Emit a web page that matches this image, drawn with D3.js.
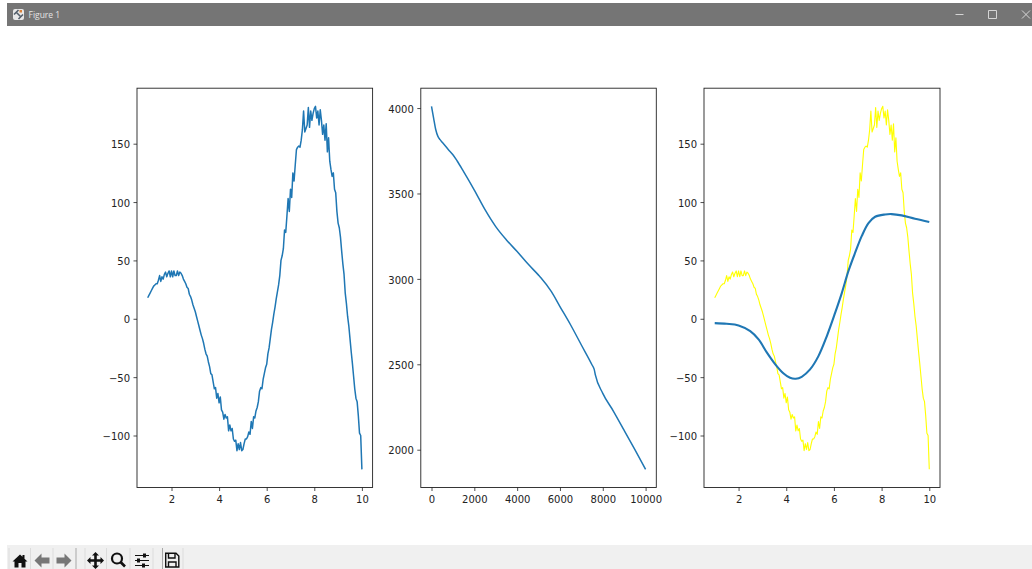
<!DOCTYPE html>
<html>
<head>
<meta charset="utf-8">
<script src="https://d3js.org/d3.v7.min.js"></script>
<style>
  html, body { margin: 0; padding: 0; background: #fff; overflow: hidden; }
  svg { display: block; }
  text { font-family: "DejaVu Sans", sans-serif; }
</style>
</head>
<body>
<svg id="fig" width="1032" height="569"></svg>
<script>
// noisy curve
const noisyX = [
  1.00, 1.05, 1.10, 1.15, 1.20, 1.25, 1.30, 1.35, 1.40, 1.45, 1.50, 1.55, 1.60, 1.65, 1.70, 1.75, 1.80, 1.85, 1.90, 1.95,
  2.00, 2.05, 2.10, 2.15, 2.20, 2.25, 2.30, 2.35, 2.40, 2.45, 2.50, 2.55, 2.60, 2.65, 2.70, 2.75, 2.80, 2.85, 2.90, 2.95,
  3.00, 3.05, 3.10, 3.15, 3.20, 3.25, 3.30, 3.35, 3.40, 3.45, 3.50, 3.55, 3.60, 3.65, 3.70, 3.75, 3.80, 3.85, 3.90, 3.95,
  4.00, 4.05, 4.10, 4.15, 4.20, 4.25, 4.30, 4.35, 4.40, 4.45, 4.50, 4.55, 4.60, 4.65, 4.70, 4.75, 4.80, 4.85, 4.90, 4.95,
  5.00, 5.05, 5.10, 5.15, 5.20, 5.25, 5.30, 5.35, 5.40, 5.45, 5.50, 5.55, 5.60, 5.65, 5.70, 5.75, 5.80, 5.85, 5.90, 5.95,
  6.00, 6.05, 6.10, 6.15, 6.20, 6.25, 6.30, 6.35, 6.40, 6.45, 6.50, 6.55, 6.60, 6.65, 6.70, 6.75, 6.80, 6.85, 6.90, 6.95,
  7.00, 7.05, 7.10, 7.15, 7.20, 7.25, 7.30, 7.35, 7.40, 7.45, 7.50, 7.55, 7.60, 7.65, 7.70, 7.75, 7.80, 7.85, 7.90, 7.95,
  8.00, 8.05, 8.10, 8.15, 8.20, 8.25, 8.30, 8.35, 8.40, 8.45, 8.50, 8.55, 8.60, 8.65, 8.70, 8.75, 8.80, 8.85, 8.90, 8.95,
  9.00, 9.05, 9.10, 9.15, 9.20, 9.25, 9.30, 9.35, 9.40, 9.45, 9.50, 9.55, 9.60, 9.65, 9.70, 9.75, 9.80, 9.85, 9.90, 9.95,
  10.00
];
const noisyY = [
  18, 20, 22, 24, 26, 28, 29, 30, 30, 33, 37, 32, 36, 34, 38, 40, 36, 39, 41, 36,
  41, 36, 41, 37, 37, 41, 37, 40, 39, 37, 34, 32, 30, 27, 26, 21, 19, 16, 12, 9,
  6, 2, -2, -6, -10, -14, -17, -21, -26, -30, -32, -37, -41, -47, -48, -54, -60, -59, -68, -64,
  -72, -67, -78, -80, -86, -82, -85, -84, -96, -91, -96, -94, -103, -105, -104, -113, -107, -112, -106, -113,
  -112, -107, -103, -103, -101, -97, -99, -88, -94, -84, -85, -79, -76, -71, -62, -59, -60, -52, -47, -42,
  -39, -30, -25, -17, -9, -3, 4, 10, 17, 23, 29, 37, 50, 54, 60, 76, 74, 88, 103, 92,
  111, 104, 125, 118, 132, 145, 147, 148, 147, 153, 162, 178, 160, 163, 166, 181, 164, 178, 170, 176,
  180, 182, 172, 178, 166, 179, 170, 158, 166, 153, 167, 143, 155, 135, 128, 122, 125, 111, 108, 92,
  82, 78, 70, 58, 47, 38, 22, 13, 2, -6, -17, -28, -38, -49, -60, -68, -71, -83, -98, -100,
  -129
];

// loss curve, middle panel
const lossStep = [0, 100, 200, 300, 400, 500, 800, 1000, 1200, 1500, 2000, 2500, 3000, 3500, 4000, 4500, 5000, 5100, 5600, 6000, 6500, 7000, 7500, 7600, 7650, 8000, 8500, 9000, 9500, 10000];
const lossVal = [4010, 3940, 3873, 3834, 3815, 3800, 3755, 3727, 3690, 3628, 3520, 3405, 3306, 3228, 3160, 3088, 3022, 3008, 2925, 2838, 2730, 2613, 2496, 2470, 2440, 2330, 2225, 2113, 2000, 1885];

// fitted curve, right panel
const fitX = [1, 1.5, 2, 2.49, 2.84, 3.19, 3.54, 3.89, 4.16, 4.4, 4.65, 5, 5.35, 5.7, 6.05, 6.33, 6.61, 6.89, 7.17, 7.45, 7.73, 8.15, 8.42, 8.84, 9.4, 10];
const fitY = [-3.7, -4.3, -5.7, -10.6, -17.7, -29, -39, -46.9, -50.6, -51.4, -49.7, -43.4, -32, -15, 5, 22, 41, 56.6, 71, 82, 87.4, 89.4, 89.7, 88.6, 85.7, 83];

const curveTicksX = [2, 4, 6, 8, 10];
const curveTicksY = [-100, -50, 0, 50, 100, 150];
const lossTicksX = [0, 2000, 4000, 6000, 8000, 10000];
const lossTicksY = [2000, 2500, 3000, 3500, 4000];

const svg = d3.select("#fig");

// window title bar
svg.append("rect").attr("x", 7).attr("y", 3).attr("width", 1025).attr("height", 23).attr("fill", "#757575");
const logo = svg.append("g").attr("transform", "translate(13,9)");
logo.append("rect").attr("width", 11).attr("height", 11).attr("rx", 2).attr("fill", "#e8e8e8");
logo.append("path").attr("d", "M1 5.5L5.5 1M5.5 10L10 5.5M3 3L8 8").attr("stroke", "#55606b").attr("stroke-width", 1.6);
logo.append("rect").attr("x", 6.5).attr("y", 1).attr("width", 2.5).attr("height", 2.5).attr("fill", "#d9823b");
svg.append("text").attr("x", 28.5).attr("y", 18).attr("font-size", 8.5).attr("fill", "#e4e4e4")
  .style("font-family", "'Open Sans', sans-serif").text("Figure 1");
svg.append("path").attr("fill", "none").attr("stroke", "#e0e0e0").attr("stroke-width", 0.9)
  .attr("d", "M955.5 14.5H963.5M988.5 10.5h8v8h-8zM1022 10.5l8 8M1030 10.5l-8 8");

// toolbar
svg.append("rect").attr("x", 7).attr("y", 545).attr("width", 1025).attr("height", 24).attr("fill", "#f0f0f0");
[9, 30.5, 53, 76, 85, 106.5, 130, 153, 162.5, 183].forEach((x) => {
  svg.append("line").attr("x1", x).attr("x2", x).attr("y1", 548).attr("y2", 569)
    .attr("stroke", x === 76 || x === 162.5 ? "#a8a8a8" : "#dcdcdc").attr("stroke-width", 1);
});
const toolIcons = [
  { x: 20, fill: "#111", d: "M-7.5 1L0 -6L2.5 -3.7V-5.5H4.5V-1.8L7.5 1H5.5V7H1.5V2.5H-1.5V7H-5.5V1Z" },
  { x: 42, fill: "#777", d: "M-7.5 0L-0.5 -7V-3H7.5V3H-0.5V7Z" },
  { x: 64, fill: "#777", d: "M7.5 0L0.5 -7V-3H-7.5V3H0.5V7Z" },
  { x: 95.5, fill: "#111", d: "M0 -8.5L3.5 -5H1.3V-1.3H5V-3.5L8.5 0L5 3.5V1.3H1.3V5H3.5L0 8.5L-3.5 5H-1.3V1.3H-5V3.5L-8.5 0L-5 -3.5V-1.3H-1.3V-5H-3.5Z" }
];
toolIcons.forEach((ic) => {
  svg.append("path").attr("transform", `translate(${ic.x},560.5)`).attr("d", ic.d).attr("fill", ic.fill);
});
svg.append("circle").attr("cx", 117).attr("cy", 558.5).attr("r", 5).attr("fill", "none").attr("stroke", "#111").attr("stroke-width", 2.2);
svg.append("line").attr("x1", 120.5).attr("y1", 562).attr("x2", 125).attr("y2", 566.5).attr("stroke", "#111").attr("stroke-width", 2.6);
svg.append("path").attr("fill", "none").attr("stroke", "#111").attr("stroke-width", 1.2)
  .attr("d", "M135 555.5H149M135 560.5H149M135 565.5H149");
svg.append("path").attr("fill", "#111").attr("d", "M143 553.5h3v4h-3zM137 558.5h3v4h-3zM142 563.5h3v4h-3z");
svg.append("path").attr("fill", "none").attr("stroke", "#111").attr("stroke-width", 1.4)
  .attr("d", "M165.7 553.2H176L178.8 556V567H165.7ZM168.5 553.2V558H175V553.2M168.5 567V562H176V567");

// one panel: white plot box, ticks, and lines
function panel(left, right, domainX, domainY, ticksX, ticksY, lines) {
  const top = 88.2;
  const bottom = 487.5;
  const padX = (domainX[1] - domainX[0]) * 0.05;
  const padY = (domainY[1] - domainY[0]) * 0.05;
  const x = d3.scaleLinear().domain([domainX[0] - padX, domainX[1] + padX]).range([left, right]);
  const y = d3.scaleLinear().domain([domainY[0] - padY, domainY[1] + padY]).range([bottom, top]);

  lines.forEach((l) => {
    const line = d3.line().x((d, i) => x(l.xs[i])).y((d) => y(d)).curve(l.curve || d3.curveLinear);
    svg.append("path").datum(l.ys).attr("d", line).attr("fill", "none")
      .attr("stroke", l.color).attr("stroke-width", l.width).attr("stroke-linejoin", "round");
  });

  svg.append("rect").attr("x", left).attr("y", top).attr("width", right - left).attr("height", bottom - top)
    .attr("fill", "none").attr("stroke", "#222").attr("stroke-width", 0.9);

  const gx = svg.append("g").attr("transform", `translate(0,${bottom})`)
    .call(d3.axisBottom(x).tickValues(ticksX).tickFormat(d3.format("d")).tickSize(3.5).tickPadding(5));
  const gy = svg.append("g").attr("transform", `translate(${left},0)`)
    .call(d3.axisLeft(y).tickValues(ticksY).tickFormat((d) => String(d).replace("-", "\u2212")).tickSize(3.5).tickPadding(3.5));
  [gx, gy].forEach((g) => {
    g.select(".domain").remove();
    g.selectAll("line").attr("stroke", "#222").attr("stroke-width", 0.8);
    g.selectAll("text").attr("fill", "#222").attr("font-size", 10).style("font-family", "'DejaVu Sans', sans-serif");
  });
  gy.selectAll("text").attr("dy", "0.42em");
}

const blue = "#1f77b4";
const noisyDomainY = d3.extent(noisyY);

panel(137, 372.6, d3.extent(noisyX), noisyDomainY, curveTicksX, curveTicksY, [
  { xs: noisyX, ys: noisyY, color: blue, width: 1.5 }
]);
panel(420.8, 656.3, d3.extent(lossStep), d3.extent(lossVal), lossTicksX, lossTicksY, [
  { xs: lossStep, ys: lossVal, color: blue, width: 1.5, curve: d3.curveMonotoneX }
]);
panel(704, 940, d3.extent(noisyX), noisyDomainY, curveTicksX, curveTicksY, [
  { xs: noisyX, ys: noisyY, color: "#ffff00", width: 1.1 },
  { xs: fitX, ys: fitY, color: blue, width: 2.1, curve: d3.curveCatmullRom }
]);
</script>
</body>
</html>
